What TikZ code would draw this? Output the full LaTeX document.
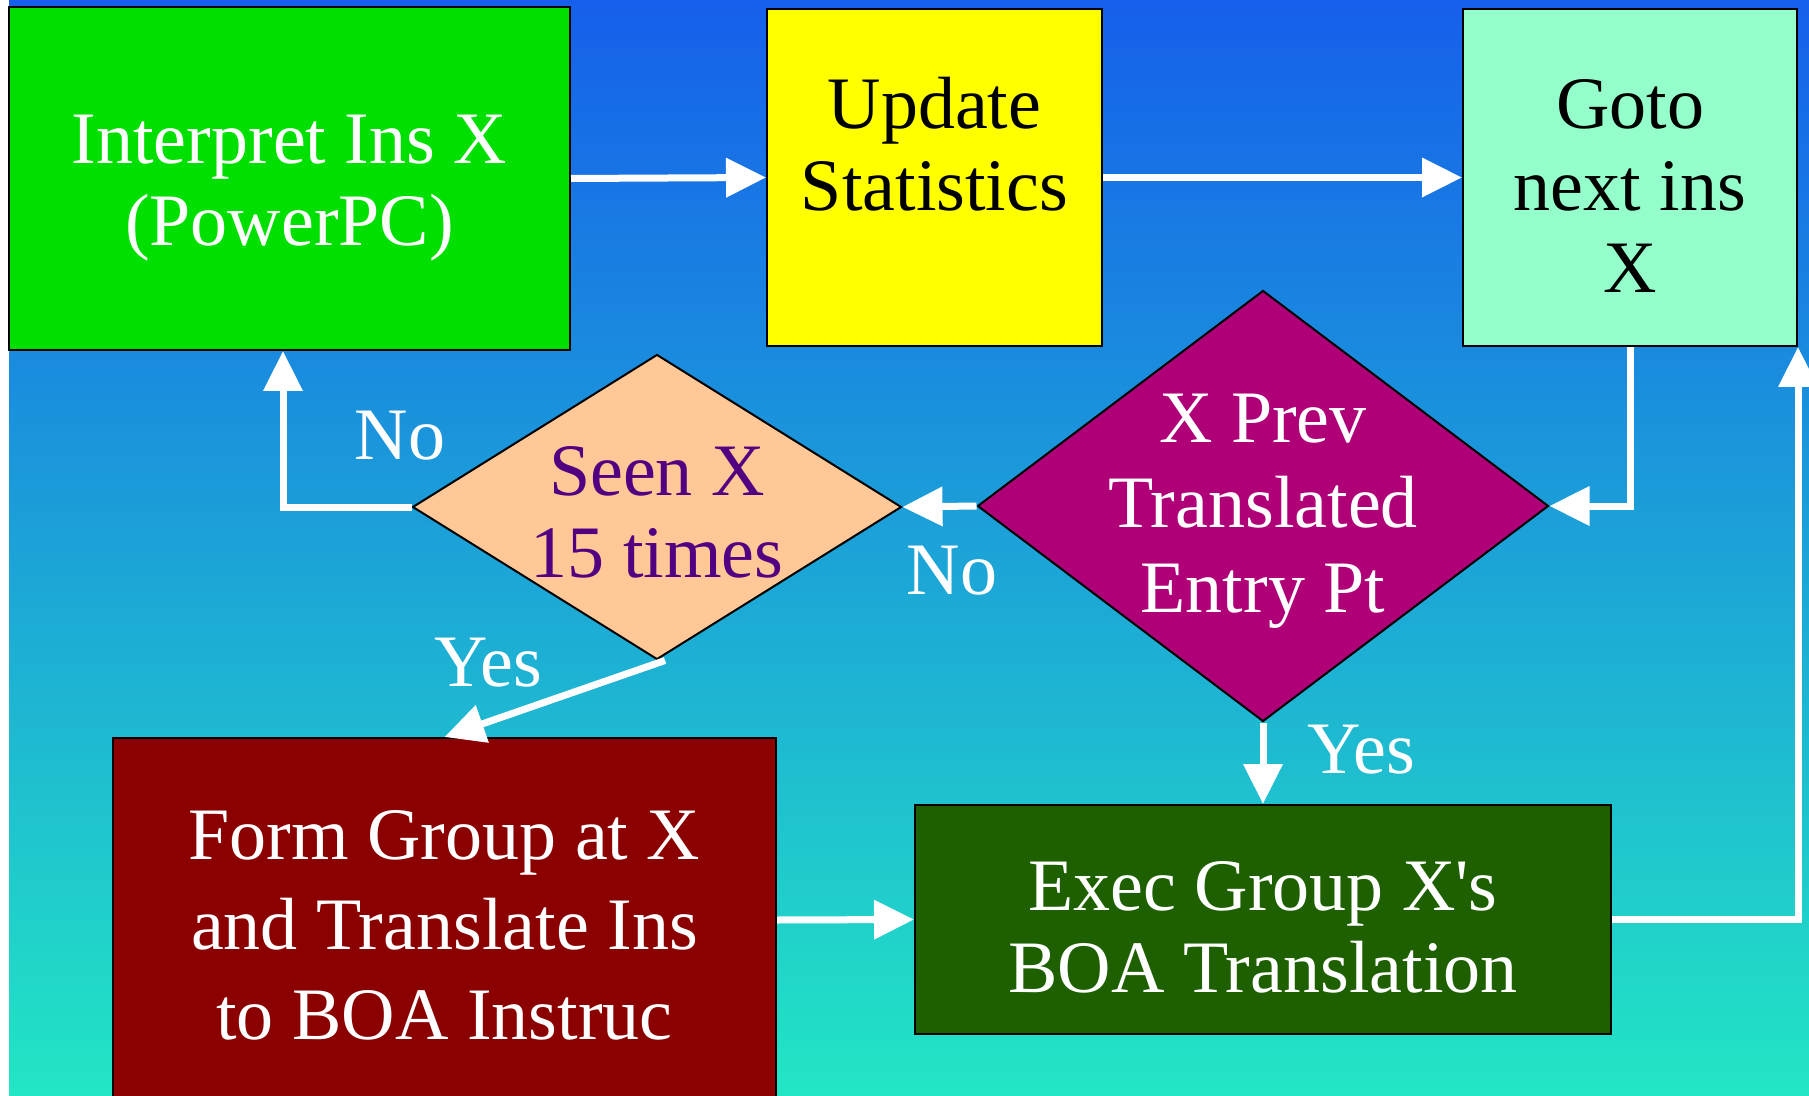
\documentclass[tikz,border=0pt]{standalone}
\usepackage{fontspec}
\setmainfont{Liberation Serif}
\usetikzlibrary{shapes.geometric,arrows.meta,calc}
\definecolor{bgtop}{RGB}{22,95,235}
\definecolor{bgbot}{RGB}{34,230,196}
\definecolor{cgreen}{RGB}{0,224,0}
\definecolor{cyellow}{RGB}{255,255,0}
\definecolor{cmint}{RGB}{148,255,202}
\definecolor{corange}{RGB}{255,200,150}
\definecolor{cpurple}{RGB}{175,0,120}
\definecolor{cdarkred}{RGB}{139,0,0}
\definecolor{cdarkgreen}{RGB}{30,96,0}
\definecolor{cindigo}{RGB}{80,0,128}
\tikzset{
  box/.style={draw=black, line width=1pt, inner sep=0pt},
  dia/.style={diamond, draw=black, line width=1pt, inner sep=0pt},
  txt/.style={align=center, inner sep=0pt, font=\fontsize{37}{41}\selectfont},
  lbl/.style={text=white, inner sep=0pt, font=\fontsize{37}{41}\selectfont},
  arr/.style={draw=white, line width=3.5pt, -{Triangle[length=20pt,width=19pt]}},
}
\begin{document}
\begin{tikzpicture}[x=0.5pt,y=-0.5pt]
\useasboundingbox (0,0) rectangle (1809,1096);
\clip (0,0) rectangle (1809,1096);
\fill[white] (0,0) rectangle (1809,1096);
\shade[top color=bgtop, bottom color=bgbot] (9,0) rectangle (1809,1096);

% boxes
\node[box, fill=cgreen, minimum width=280.5pt, minimum height=171.5pt] (green) at (289.5,178.5) {};
\node[box, fill=cyellow, minimum width=167.5pt, minimum height=168.5pt] (yellow) at (934.5,177.5) {};
\node[box, fill=cmint, minimum width=167pt, minimum height=168.5pt] (mint) at (1630,177.5) {};
\node[dia, fill=corange, minimum width=244.5pt, minimum height=152.5pt] (orange) at (657,507) {};
\node[dia, fill=cpurple, minimum width=285.5pt, minimum height=215.5pt] (purple) at (1263,506) {};
\node[box, fill=cdarkred, minimum width=331.5pt, minimum height=182pt] (darkred) at (444.5,920) {};
\node[box, fill=cdarkgreen, minimum width=348pt, minimum height=114.5pt] (darkgreen) at (1263,919.5) {};

% texts
\node[txt, text=white] (tgreen) at (289.5,188) {Interpret Ins X\\(PowerPC)};
\node[txt, text=black] (tyellow) at (934.5,144) {Update\\Statistics};
\node[txt, text=black] (tmint) at (1630,186) {Goto\\next ins\\X};
\node[txt, text=cindigo] (torange) at (657,512) {Seen X\\15 times};
\node[txt, text=white, font=\fontsize{37}{42.5}\selectfont] (tpurple) at (1263,511) {X Prev\\Translated\\Entry Pt};
\node[txt, text=white, font=\fontsize{37}{45}\selectfont] (tdarkred) at (444.5,925) {Form Group at X\\and Translate Ins\\to BOA Instruc};
\node[txt, text=white] (tdarkgreen) at (1263,927) {Exec Group X\textquotesingle s\\BOA Translation};

% connectors
\draw[arr] (green.east) -- (yellow.west);
\draw[arr] (yellow.east) -- (mint.west);
\draw[arr] (mint.south) |- (purple.east);
\draw[arr] (purple.west) -- (orange.east);
\draw[arr] (orange.west) -| ($(green.south)+(-6.5,0)$);
\draw[arr] ($(orange.south)+(8,0)$) -- (darkred.north);
\draw[arr] (purple.south) -- (darkgreen.north);
\draw[arr] (darkred.east) -- (darkgreen.west);
\draw[arr] (darkgreen.east) -| (mint.south east);

% labels
\node[lbl] (lno1) at (400,436) {No};
\node[lbl] (lno2) at (952,571) {No};
\node[lbl] (lyes1) at (488,663) {Yes};
\node[lbl] (lyes2) at (1361,750) {Yes};
\end{tikzpicture}
\end{document}
